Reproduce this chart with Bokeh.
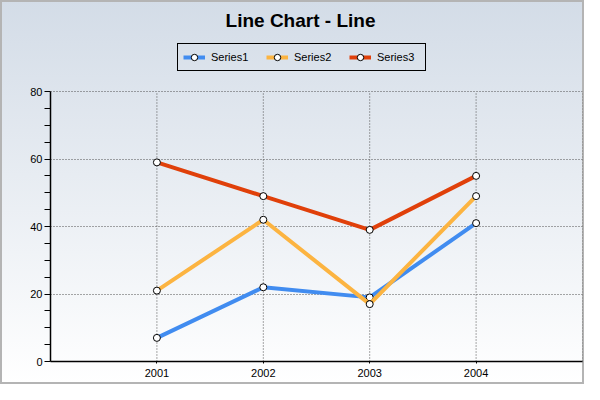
from bokeh.embed import file_html
from bokeh.models import FixedTicker, Label, Legend, LegendItem
from bokeh.plotting import figure
from bokeh.resources import INLINE

# data
years = [2001, 2002, 2003, 2004]
series1 = [7, 22, 19, 41]
series2 = [21, 42, 17, 49]
series3 = [59, 49, 39, 55]
names = ["Series1", "Series2", "Series3"]
colors = ["#418CF0", "#FCB441", "#E0400A"]

y_ticks = [0, 20, 40, 60, 80]
y_minor = [5, 10, 15, 25, 30, 35, 45, 50, 55, 65, 70, 75]
x_grid = [2001, 2002, 2003, 2004, 2005]

# the frame runs up to the top of the canvas so the title and legend can sit
# inside it; the value axis itself stops at 80
FRAME_H = 361
PLOT_H = 270
y_top = y_ticks[-1] * FRAME_H / PLOT_H

p = figure(
    width=584, height=384,
    frame_width=532, frame_height=FRAME_H,
    x_range=(2000, 2005), y_range=(0, y_top),
    output_backend="svg", toolbar_location=None,
    min_border_left=50, min_border_right=2,
    min_border_top=0, min_border_bottom=23,
)
p.styles = {
    "background": "linear-gradient(to bottom, #d3dce7 0%, #ffffff 100%)",
    "outline": "2px solid #b4b4b4",
    "outline-offset": "-2px",
}
p.border_fill_alpha = 0
p.background_fill_alpha = 0
p.outline_line_color = None

p.add_layout(Label(
    x=250, y=FRAME_H - 20, x_units="screen", y_units="screen",
    text="Line Chart - Line", text_align="center", text_baseline="middle",
    text_font="Liberation Sans", text_font_size="19px",
    text_font_style="bold", text_color="black",
))

# dotted grid, limited to the 0..80 area
p.xgrid.visible = False
p.segment(x0=x_grid, y0=y_ticks[0], x1=x_grid, y1=y_ticks[-1],
          line_color="#505050", line_dash="1 2", line_width=1)
p.ygrid.ticker = FixedTicker(ticks=y_ticks)
p.ygrid.grid_line_color = "#505050"
p.ygrid.grid_line_dash = "1 2"

items = []
for name, ys, color in zip(names, [series1, series2, series3], colors):
    ln = p.line(years, ys, line_color=color, line_width=4)
    pt = p.scatter(years, ys, size=7, fill_color="white",
                   line_color="black", line_width=1)
    items.append(LegendItem(label=name, renderers=[ln, pt]))

legend = Legend(items=items, orientation="horizontal", location=(127, 290))
legend.border_line_color = "black"
legend.border_line_alpha = 1
legend.border_line_width = 1
legend.background_fill_alpha = 0
legend.label_text_font = "Liberation Sans"
legend.label_text_font_size = "11px"
legend.label_text_color = "black"
legend.label_standoff = 6
legend.label_width = 43
legend.glyph_width = 22
legend.glyph_height = 16
legend.spacing = 12
legend.padding = 5
legend.margin = 0
p.add_layout(legend, "center")

p.xaxis.ticker = FixedTicker(ticks=years)
p.yaxis.ticker = FixedTicker(ticks=y_ticks, minor_ticks=y_minor)
p.yaxis.bounds = (y_ticks[0], y_ticks[-1])

for ax in (p.xaxis, p.yaxis):
    ax.axis_line_color = "black"
    ax.axis_line_width = 1.5
    ax.major_tick_line_color = "black"
    ax.minor_tick_line_color = "black"
    ax.major_label_text_font = "Liberation Sans"
    ax.major_label_text_font_size = "11px"
    ax.major_label_text_color = "black"
    ax.major_tick_in = 0
    ax.minor_tick_in = 0
p.xaxis.major_tick_out = 2
p.xaxis.minor_tick_out = 0
p.yaxis.major_tick_out = 6
p.yaxis.minor_tick_out = 6
p.yaxis.major_label_standoff = 2

open("out.html", "w").write(file_html(p, INLINE))
